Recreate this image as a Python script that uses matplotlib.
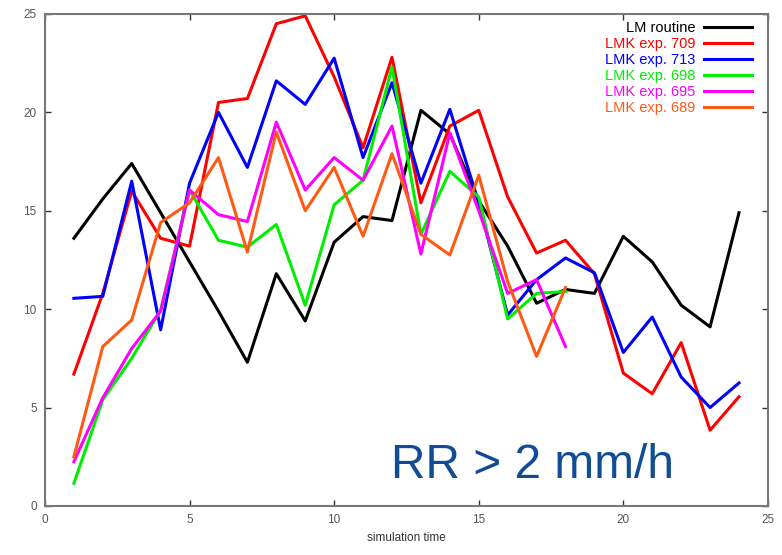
import numpy as np
from matplotlib import pyplot as plt

plt.rcParams['font.family'] = ['Liberation Sans', 'DejaVu Sans']

# Rain-rate scores per simulation hour for each run
hours = np.arange(1, 25)
lm_routine = [13.6, 15.6, 17.4, 14.9, 12.4, 9.9, 7.3, 11.8, 9.4, 13.4, 14.7, 14.5,
              20.1, 18.9, 15.5, 13.2, 10.3, 11.0, 10.8, 13.7, 12.4, 10.2, 9.1, 14.9]
lmk_709 = [6.7, 10.8, 16.0, 13.6, 13.2, 20.5, 20.7, 24.5, 24.9, 21.8, 18.2, 22.8,
           15.4, 19.3, 20.1, 15.7, 12.85, 13.5, 11.8, 6.75, 5.7, 8.3, 3.85, 5.55]
lmk_713 = [10.55, 10.65, 16.5, 8.95, 16.4, 20.0, 17.2, 21.6, 20.4, 22.75, 17.7, 21.5,
           16.4, 20.15, 15.4, 9.7, 11.5, 12.6, 11.85, 7.8, 9.6, 6.55, 5.0, 6.25]
lmk_698 = [1.15, 5.4, 7.5, 9.95, 16.05, 13.5, 13.15, 14.3, 10.2, 15.3, 16.55, 22.3,
           13.8, 17.0, 15.7, 9.5, 10.8, 10.9]
lmk_695 = [2.25, 5.5, 8.0, 9.9, 16.05, 14.8, 14.45, 19.5, 16.05, 17.7, 16.55, 19.3,
           12.8, 18.95, 15.0, 10.8, 11.5, 8.1]
lmk_689 = [2.5, 8.1, 9.45, 14.4, 15.4, 17.7, 12.9, 19.0, 15.0, 17.2, 13.7, 17.9,
           13.8, 12.75, 16.8, 11.4, 7.6, 11.1]

series = [
    ("LM routine", lm_routine, "#000000"),
    ("LMK exp. 709", lmk_709, "#ff0000"),
    ("LMK exp. 713", lmk_713, "#0000ff"),
    ("LMK exp. 698", lmk_698, "#00ee00"),
    ("LMK exp. 695", lmk_695, "#ff00ff"),
    ("LMK exp. 689", lmk_689, "#ff5a14"),
]

fig = plt.figure(figsize=(7.82, 5.55), dpi=100)
ax = fig.add_axes([0.0575, 0.0883, 0.9245, 0.8867])

for label, values, color in series:
    ax.plot(hours[:len(values)], values, color=color, linewidth=2.2, label=label)

ax.set_xlim(0, 25)
ax.set_ylim(0, 25)
ax.set_xticks(range(0, 26, 5))
ax.set_yticks(range(0, 26, 5))
ax.tick_params(direction="in", top=True, right=True, length=4, width=1,
               labelsize=8.5, labelcolor="#555555", color="#333333", pad=6)
for spine in ax.spines.values():
    spine.set_color("#777777")
    spine.set_linewidth(1.5)

ax.set_xlabel("simulation time", fontsize=8.5, color="#333333", labelpad=4)

# legend text sits left of its line, coloured like the line
leg = ax.legend(loc="upper right", bbox_to_anchor=(0.978, 0.985),
                frameon=False, markerfirst=False,
                fontsize=10.5, handlelength=3.3, handletextpad=0.55,
                labelspacing=0.14, borderaxespad=0, borderpad=0)
for text, line in zip(leg.get_texts(), leg.get_lines()):
    text.set_color(line.get_color())
    text.set_ha("right")

ax.text(0.675, 0.057, "RR > 2 mm/h", transform=ax.transAxes, fontsize=34.5,
        color="#124c94", ha="center", va="baseline")

fig.savefig("out.png", dpi=100)
